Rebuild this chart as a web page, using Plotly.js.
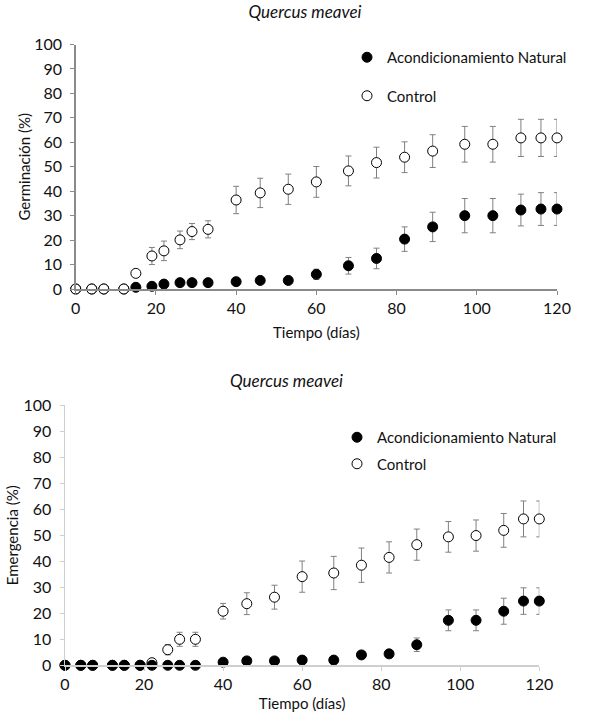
<!DOCTYPE html>
<html>
<head>
<meta charset="utf-8">
<script src="https://cdn.plot.ly/plotly-3.0.1.min.js"></script>
<style>
  html, body { margin: 0; padding: 0; background: #fff; }
  #chart { width: 589px; height: 718px; }
</style>
</head>
<body>
<div id="chart"></div>
<script>
/* ─── Data ─── */
const DAYS = [0, 4, 7, 12, 15, 19, 22, 26, 29, 33, 40, 46, 53, 60, 68, 75, 82, 89, 97, 104, 111, 116, 120];

// Germinación (%)
const NAT_GERM     = [0, 0, 0, 0, 0.7, 1.1, 2.0, 2.6, 2.6, 2.6, 3.0, 3.5, 3.5, 6.0, 9.5, 12.5, 20.4, 25.4, 30.0, 30.0, 32.3, 32.7, 32.7];
const NAT_GERM_ERR = [0, 0, 0, 0, 0.3, 0.3, 0.4, 0.5, 0.5, 0.5, 0.6, 0.6, 0.6, 2.1, 3.4, 4.2, 5.0, 6.0, 7.0, 7.0, 6.5, 6.7, 6.7];
const CTL_GERM     = [0, 0, 0, 0, 6.4, 13.5, 15.6, 20.1, 23.5, 24.4, 36.4, 39.3, 40.8, 43.8, 48.3, 51.7, 53.9, 56.4, 59.2, 59.2, 61.8, 61.8, 61.8];
const CTL_GERM_ERR = [0, 0, 0, 0, 1.5, 3.5, 4.0, 3.6, 3.3, 3.5, 5.6, 6.0, 6.2, 6.3, 6.1, 6.3, 6.3, 6.7, 7.3, 7.3, 7.6, 7.6, 7.6];

// Emergencia (%)
const NAT_EMER     = [0, 0, 0, 0, 0, 0, 0, 0, 0, 0, 1.2, 1.7, 1.7, 2.0, 2.0, 4.0, 4.4, 7.9, 17.3, 17.3, 20.8, 24.7, 24.7];
const NAT_EMER_ERR = [0, 0, 0, 0, 0, 0, 0, 0, 0, 0, 0.3, 0.4, 0.4, 0.5, 0.5, 1.2, 1.3, 2.6, 4.0, 4.0, 5.0, 5.1, 5.1];
const CTL_EMER     = [0, 0, 0, 0, 0, 0, 1.0, 6.0, 10.0, 10.0, 20.8, 23.7, 26.2, 34.1, 35.5, 38.5, 41.5, 46.4, 49.4, 49.9, 51.9, 56.3, 56.3];
const CTL_EMER_ERR = [0, 0, 0, 0, 0, 0, 0.3, 2.0, 2.7, 2.7, 3.0, 4.2, 4.6, 6.0, 6.4, 6.6, 6.0, 6.0, 5.9, 6.0, 6.5, 6.9, 6.9];

const TITLE = 'Quercus meavei';
const NAMES = ['Acondicionamiento Natural', 'Control'];

/* ─── Style ─── */
const FONT = 'Lato, "Open Sans", sans-serif';
const INK = '#111';
const ERR_COLOR = '#808080';
const W = 589, H = 718;

function errBar(arr) {
  return { type: 'data', array: arr, visible: true, color: ERR_COLOR, thickness: 1, width: 3 };
}

function natTrace(y, err, xa, ya, legend) {
  return {
    x: DAYS, y: y, xaxis: xa, yaxis: ya, legend: legend,
    type: 'scatter', mode: 'markers', name: NAMES[0], cliponaxis: false,
    legendgroup: legend + 'a', legendrank: 1,
    marker: { symbol: 'circle', size: 10, color: '#000', line: { color: '#000', width: 1 } },
    error_y: errBar(err),
  };
}

function ctlTrace(y, err, xa, ya, legend) {
  return {
    x: DAYS, y: y, xaxis: xa, yaxis: ya, legend: legend,
    type: 'scatter', mode: 'markers', name: NAMES[1], cliponaxis: false,
    legendgroup: legend + 'b', legendrank: 2,
    marker: { symbol: 'circle', size: 10, color: '#fff', line: { color: '#000', width: 1 } },
    error_y: errBar(err),
  };
}

// top: control drawn over; bottom: natural drawn over
const traces = [
  natTrace(NAT_GERM, NAT_GERM_ERR, 'x', 'y', 'legend'),
  ctlTrace(CTL_GERM, CTL_GERM_ERR, 'x', 'y', 'legend'),
  ctlTrace(CTL_EMER, CTL_EMER_ERR, 'x2', 'y2', 'legend2'),
  natTrace(NAT_EMER, NAT_EMER_ERR, 'x2', 'y2', 'legend2'),
];

const TICKFONT = { family: FONT, size: 16, color: INK };
const AXTITLEFONT = { family: FONT, size: 15, color: INK };

function xaxis(lineColor, dom, anchor, standoff) {
  return {
    domain: dom, anchor: anchor, range: [0, 120], dtick: 20,
    showgrid: false, zeroline: false,
    showline: true, linecolor: lineColor, linewidth: 1.5,
    ticks: 'outside', ticklen: 4, tickcolor: lineColor, tickwidth: 1,
    tickfont: TICKFONT,
    title: { text: 'Tiempo (días)', standoff: standoff, font: AXTITLEFONT },
  };
}

function yaxis(lineColor, text, dom, anchor, standoff) {
  return {
    domain: dom, anchor: anchor, range: [0, 100], dtick: 10,
    showgrid: false, zeroline: false,
    showline: true, linecolor: lineColor, linewidth: 1.5,
    ticks: 'outside', ticklen: 4, tickcolor: lineColor, tickwidth: 1,
    ticklabelstandoff: 5,
    tickfont: TICKFONT,
    title: { text: text, standoff: standoff, font: AXTITLEFONT },
  };
}

function legendBox(x, y, gap) {
  return {
    x: x, y: y, xanchor: 'left', yanchor: 'top',
    bgcolor: 'rgba(0,0,0,0)', borderwidth: 0,
    traceorder: 'grouped', tracegroupgap: gap,
    itemsizing: 'trace',
    font: { family: FONT, size: 15, color: INK },
  };
}

const TITLEFONT = { family: FONT, size: 17, style: 'italic', color: INK };

const layout = {
  width: W, height: H,
  paper_bgcolor: '#fff', plot_bgcolor: '#fff',
  margin: { l: 0, r: 0, t: 0, b: 0 },
  font: { family: FONT, color: INK },
  showlegend: true,
  title: {
    text: TITLE, x: 305 / W, xanchor: 'center', y: 1 - 12 / H, yanchor: 'middle',
    font: TITLEFONT,
  },
  annotations: [{
    text: TITLE, xref: 'paper', yref: 'paper', showarrow: false,
    x: 286 / W, y: 1 - 380 / H, xanchor: 'center', yanchor: 'middle',
    font: TITLEFONT,
  }],
  xaxis: xaxis('#8a8a8a', [75.7 / W, 557 / W], 'y', 12),
  yaxis: yaxis('#8a8a8a', 'Germinación (%)', [1 - 289 / H, 1 - 44.5 / H], 'x', 0),
  xaxis2: xaxis('#cfcfcf', [65 / W, 539.3 / W], 'y2', 6),
  yaxis2: yaxis('#cfcfcf', 'Emergencia (%)', [1 - 665.3 / H, 1 - 405.3 / H], 'x2', 1),
  legend: legendBox(347 / W, 1 - 41 / H, 16),
  legend2: legendBox(337 / W, 1 - 421 / H, 4),
};

Plotly.newPlot('chart', traces, layout, { staticPlot: true, displayModeBar: false });
</script>
</body>
</html>
